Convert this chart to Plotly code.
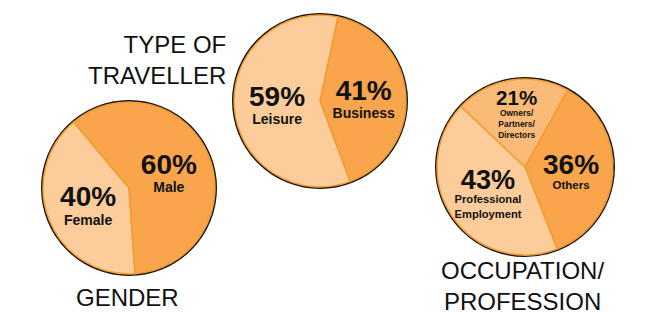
import plotly.graph_objects as go

# ---- data ----
gender_labels = ["Female", "Male"]
gender_values = [40, 60]

traveller_labels = ["Business", "Leisure"]
traveller_values = [41, 59]

occupation_labels = ["Others", "Professional<br>Employment", "Owners/<br>Partners/<br>Directors"]
occupation_values = [36, 43, 21]

titles = ["GENDER", "TYPE OF<br>TRAVELLER", "OCCUPATION/<br>PROFESSION"]

# ---- styling ----
DARK = "#F8A54B"
MID = "#FABB78"
LIGHT = "#FCCD9A"
EDGE = "#F39A30"
W, H = 658, 316
FONT = "Liberation Sans, Arial, sans-serif"


def dom(cx, cy, r):
    return dict(x=[(cx - r) / W, (cx + r) / W], y=[1 - (cy + r) / H, 1 - (cy - r) / H])


pies = [
    (gender_labels, gender_values, [LIGHT, DARK], 176, dom(129, 188, 86), 14),
    (traveller_labels, traveller_values, [DARK, LIGHT], 12, dom(320, 101, 86), 14),
    (occupation_labels, occupation_values, [DARK, LIGHT, MID], 29, dom(525, 167, 88), 11.5),
]

fig = go.Figure()
for labels, values, colors, rot, d, lsize in pies:
    # black outer ring (background disk)
    fig.add_trace(go.Pie(
        values=[sum(values)], labels=["all"], domain=d, sort=False,
        marker=dict(colors=[colors[0]], line=dict(color="#111111", width=4)),
        textinfo="none", hoverinfo="skip", showlegend=False,
    ))
    fig.add_trace(go.Pie(
        labels=labels, values=values, domain=d, sort=False, direction="clockwise",
        rotation=rot,
        marker=dict(colors=colors, line=dict(color=EDGE, width=1.5)),
        texttemplate="<span style='font-size:28px'><b>%{value}%</b></span><br><b>%{label}</b>",
        textposition="inside", insidetextorientation="horizontal",
        textfont=dict(family=FONT, size=lsize, color="#111111"),
        hoverinfo="label+value", showlegend=False,
    ))

ann_font = dict(family=FONT, size=24, color="#111111")
fig.add_annotation(text=titles[0], x=127 / W, y=1 - 297.5 / H, xref="paper", yref="paper",
                   xanchor="center", yanchor="middle", showarrow=False, font=ann_font)
fig.add_annotation(text=titles[1], x=228 / W, y=1 - 60 / H, xref="paper", yref="paper",
                   xanchor="right", yanchor="middle", align="right", showarrow=False, font=ann_font)
fig.add_annotation(text=titles[2], x=522 / W, y=0, xref="paper", yref="paper",
                   xanchor="center", yanchor="bottom", align="center", showarrow=False,
                   font=ann_font, borderpad=0)

fig.update_layout(
    width=W, height=H, margin=dict(l=0, r=0, t=0, b=0),
    paper_bgcolor="white", plot_bgcolor="white", showlegend=False,
)
fig.write_html("out.html", config={"displayModeBar": False},
               post_script="document.body.style.margin='0px';")
